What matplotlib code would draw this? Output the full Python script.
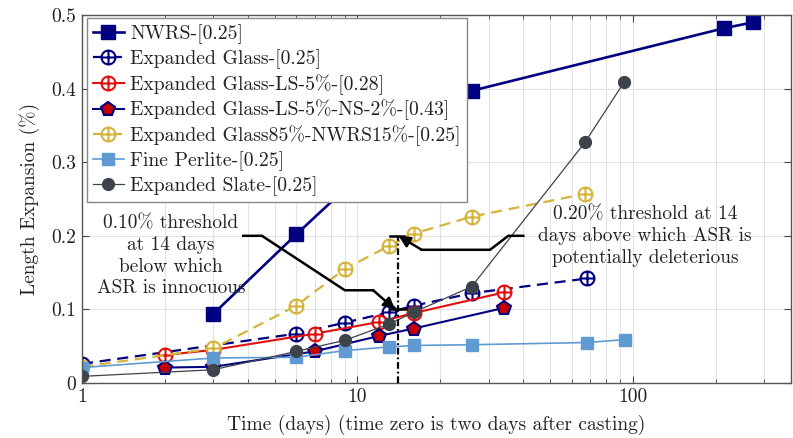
import numpy as np
import matplotlib
matplotlib.use("Agg")
import matplotlib.pyplot as plt
from matplotlib.path import Path
from matplotlib.ticker import LogLocator, NullFormatter

plt.rcParams['font.family'] = 'serif'
plt.rcParams['font.serif'] = ['cmr10']
plt.rcParams['mathtext.fontset'] = 'cm'
plt.rcParams['axes.formatter.use_mathtext'] = True

# series: days after time zero, length expansion (%)
nwrs_days = [3, 6, 14, 26, 214, 273]
nwrs_exp = [0.094, 0.202, 0.33, 0.397, 0.482, 0.490]
eg_days = [1, 6, 9, 13, 16, 26, 68]
eg_exp = [0.026, 0.067, 0.082, 0.096, 0.105, 0.122, 0.142]
egls_days = [2, 3, 7, 12, 16, 34]
egls_exp = [0.038, 0.045, 0.067, 0.083, 0.095, 0.123]
egns_days = [2, 3, 7, 12, 16, 34]
egns_exp = [0.021, 0.022, 0.043, 0.064, 0.074, 0.102]
egnw_days = [1, 3, 6, 9, 13, 16, 26, 67]
egnw_exp = [0.022, 0.047, 0.105, 0.155, 0.186, 0.203, 0.226, 0.257]
fp_days = [1, 3, 6, 9, 13, 16, 26, 68, 94]
fp_exp = [0.021, 0.034, 0.035, 0.044, 0.049, 0.051, 0.052, 0.055, 0.059]
es_days = [1, 3, 6, 9, 13, 16, 26, 67, 93]
es_exp = [0.009, 0.018, 0.043, 0.058, 0.080, 0.096, 0.131, 0.327, 0.409]

labels = ['NWRS-[0.25]', 'Expanded Glass-[0.25]', 'Expanded Glass-LS-5%-[0.28]',
          'Expanded Glass-LS-5%-NS-2%-[0.43]', 'Expanded Glass85%-NWRS15%-[0.25]',
          'Fine Perlite-[0.25]', 'Expanded Slate-[0.25]']

# threshold annotation paths (days, expansion)
low_arrow_x = [3.85, 4.5, 9.0, 11.4, 13.7]
low_arrow_y = [0.2, 0.2, 0.126, 0.126, 0.1]
high_arrow_x = [40, 35.3, 30.3, 17.1, 14.1]
high_arrow_y = [0.2, 0.2, 0.181, 0.181, 0.2]
threshold_day = 14

navy = '#000080'
red = '#e01010'
gold = '#d4b43a'
lblue = '#5f9bd2'
slate = '#3d434a'

# circle with a plus inside (pgfplots "oplus")
oplus = Path.make_compound_path(
    Path.unit_circle(),
    Path([[-1, 0], [1, 0], [0, -1], [0, 1]],
         [Path.MOVETO, Path.LINETO, Path.MOVETO, Path.LINETO]))

fig = plt.figure(figsize=(7.93, 4.38), dpi=100)
ax = fig.add_axes([82 / 793, 55 / 438, 709 / 793, 368 / 438])

ax.plot(nwrs_days, nwrs_exp, '-', color=navy, lw=1.9, marker='s', ms=9.5,
        mfc=navy, mec=navy, label=labels[0])
ax.plot(eg_days, eg_exp, color=navy, lw=1.6, ls=(0, (5, 3)), marker=oplus, ms=10,
        mfc='white', mec=navy, mew=1.5, label=labels[1])
ax.plot(egls_days, egls_exp, '-', color=red, lw=1.5, marker=oplus, ms=10,
        mfc='white', mec=red, mew=1.5, label=labels[2])
ax.plot(egns_days, egns_exp, '-', color=navy, lw=1.5, marker='p', ms=10.5,
        mfc='#c80000', mec=navy, mew=1.5, label=labels[3])
ax.plot(egnw_days, egnw_exp, color=gold, lw=1.6, ls=(0, (5, 3)), marker=oplus, ms=10,
        mfc='white', mec=gold, mew=1.5, label=labels[4])
ax.plot(fp_days, fp_exp, '-', color=lblue, lw=1.2, marker='s', ms=8.5,
        mfc=lblue, mec=lblue, label=labels[5])
ax.plot(es_days, es_exp, '-', color=slate, lw=0.9, marker='o', ms=8.5,
        mfc=slate, mec=slate, label=labels[6])

# 14 day threshold marks
ax.plot([threshold_day, threshold_day], [0, 0.2], color='k', lw=1.6,
        ls=(0, (3, 1.3, 0.8, 1.3)), zorder=4)
ax.plot([13.1, 15.0], [0.1, 0.1], color='k', lw=1.8, zorder=4)
ax.plot([13.1, 14.8], [0.2, 0.2], color='k', lw=1.8, zorder=4)

for xs, ys in [(low_arrow_x, low_arrow_y), (high_arrow_x, high_arrow_y)]:
    ax.plot(xs[:-1], ys[:-1], color='k', lw=1.8, zorder=4, solid_joinstyle='miter')
    ax.annotate('', xy=(xs[-1], ys[-1]), xytext=(xs[-2], ys[-2]),
                arrowprops=dict(arrowstyle='-|>', color='k', lw=1.8,
                                shrinkA=0, shrinkB=0, mutation_scale=17),
                zorder=4)

ax.text(2.10, 0.1726, '0.10% threshold\nat 14 days\nbelow which\nASR is innocuous',
        ha='center', va='center', multialignment='center', fontsize=13.9,
        linespacing=1.27, color='#222222', zorder=5)
ax.text(110.6, 0.2, '0.20% threshold at 14\ndays above which ASR is\npotentially deleterious',
        ha='center', va='center', multialignment='center', fontsize=13.9,
        linespacing=1.27, color='#222222', zorder=5)

ax.set_xscale('log')
ax.set_xlim(1, 375)
ax.set_ylim(0, 0.5)
ax.set_xticks([1, 10, 100])
ax.set_xticklabels(['1', '10', '100'])
ax.xaxis.set_minor_locator(LogLocator(base=10, subs=np.arange(2, 10)))
ax.xaxis.set_minor_formatter(NullFormatter())
ax.set_yticks(np.arange(0, 0.51, 0.1))
ax.set_yticklabels(['0', '0.1', '0.2', '0.3', '0.4', '0.5'])
ax.tick_params(which='both', direction='in', top=True, right=True,
               colors='#444444', labelcolor='#222222', labelsize=14)
ax.tick_params(which='major', length=5, pad=4)
ax.tick_params(which='minor', length=3)
ax.grid(which='major', color='#e3e3e3', lw=0.8)
ax.grid(which='minor', axis='x', color='#e3e3e3', lw=0.8)
ax.set_axisbelow(True)
for s in ax.spines.values():
    s.set_color('#555555')
    s.set_linewidth(1.0)

ax.set_xlabel('Time (days) (time zero is two days after casting)', fontsize=14,
              color='#222222', labelpad=6)
ax.set_ylabel('Length Expansion (%)', fontsize=14, color='#222222', labelpad=8)

leg = ax.legend(loc='upper left', bbox_to_anchor=(0.0066, 0.991), borderaxespad=0,
                fontsize=14.2, fancybox=False, framealpha=1, edgecolor='#888888',
                handlelength=1.6, handletextpad=0.3, labelspacing=0.26,
                borderpad=0.3)
leg.get_frame().set_linewidth(1.0)
leg.set_zorder(10)
for t in leg.get_texts():
    t.set_color('#222222')

fig.savefig('out.png', dpi=100)
